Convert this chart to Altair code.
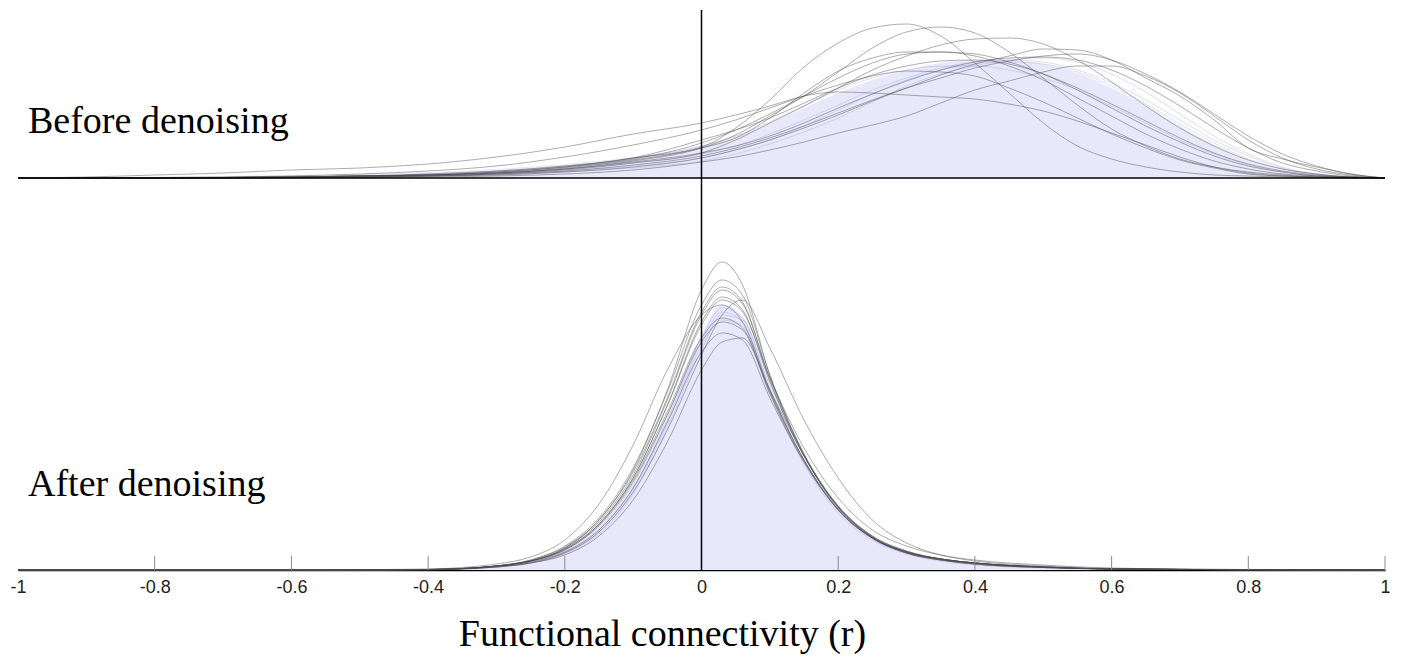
import altair as alt
import pandas as pd

# ---------------- data (density heights, arbitrary units) ----------------
XS_TOP = [-1, -0.9, -0.8, -0.7, -0.6, -0.5, -0.4, -0.3, -0.2, -0.1,
          0, 0.05, 0.1, 0.15, 0.2, 0.25, 0.3, 0.35, 0.4, 0.45, 0.5,
          0.55, 0.6, 0.65, 0.7, 0.75, 0.8, 0.85, 0.9, 0.95, 1]

before_subjects = {
    "A": [0, 0, 0, 0.5, 1, 2, 3, 6, 11, 20, 31, 50, 78, 111, 135, 150, 154, 142, 115, 85, 55, 32, 19, 11, 6, 3, 2, 1, 0.5, 0, 0],
    "B": [0, 0, 0, 0.5, 1, 2, 3, 5, 9, 17, 30, 43, 62, 82, 106, 130, 146, 151, 145, 126, 100, 73, 49, 32, 19, 11, 6, 3, 1, 0.5, 0],
    "C": [0, 0, 0, 0, 0.5, 1, 2, 4, 8, 15, 25, 38, 55, 72, 90, 108, 122, 133, 139, 140, 134, 118, 96, 72, 50, 32, 18, 9, 4, 1, 0],
    "D": [0, 0, 0, 0, 0.5, 1, 2, 3, 6, 11, 20, 28, 38, 50, 63, 77, 90, 103, 114, 122, 129, 128, 118, 100, 82, 58, 30, 19, 11, 4, 0],
    "E": [0, 0, 0, 0.5, 1, 2, 3, 5, 10, 18, 30, 40, 60, 85, 107, 120, 126, 126, 122, 112, 98, 80, 62, 44, 29, 17, 9, 4, 2, 0.5, 0],
    "F": [0, 0, 0, 0.5, 1, 2, 3, 5, 9, 16, 25, 32, 42, 55, 70, 84, 97, 108, 116, 120, 121, 118, 108, 92, 72, 50, 30, 15, 7, 2, 0],
    "G": [0, 0, 0, 0, 0, 0.5, 1, 2, 4, 8, 16, 21, 28, 36, 45, 53, 62, 75, 88, 97, 106, 112, 112, 102, 85, 62, 38, 20, 9, 3, 0],
    "H": [0, 1, 3, 5, 8, 10, 14, 21, 31, 44, 55, 63, 72, 82, 86, 85, 83, 81, 79, 74, 67, 57, 45, 33, 21, 11, 5, 2, 1, 0, 0],
    "I": [0, 0, 0.5, 1, 2, 4, 7, 12, 21, 33, 48, 58, 70, 82, 93, 102, 107, 106, 102, 90, 76, 60, 44, 30, 18, 10, 4, 2, 1, 0, 0],
    "J": [0, 0, 0, 0.5, 1, 2, 4, 7, 12, 20, 38, 48, 60, 75, 90, 103, 112, 117, 118, 114, 104, 90, 74, 57, 40, 25, 14, 7, 3, 1, 0],
    "K": [0, 0, 0, 0, 0.5, 1, 2, 4, 7, 13, 22, 30, 40, 52, 65, 78, 90, 100, 110, 117, 122, 124, 118, 104, 86, 64, 42, 24, 12, 4, 0],
    "M": [0, 0, 0, 0.5, 1, 2, 3, 6, 11, 19, 35, 48, 64, 82, 100, 115, 124, 126, 124, 116, 104, 88, 70, 52, 36, 22, 12, 6, 2, 1, 0],
}
before_faint = {
    "P1": [0, 0, 0, 0.5, 1, 2, 3, 5, 9, 15, 24, 32, 44, 58, 73, 88, 100, 110, 116, 118, 116, 108, 95, 78, 58, 38, 22, 10, 4, 1, 0],
    "P2": [0, 0, 0, 0, 0.5, 1, 2, 4, 7, 12, 20, 28, 38, 52, 68, 84, 98, 108, 114, 116, 114, 106, 92, 74, 54, 35, 19, 9, 3, 1, 0],
    "P3": [0, 0, 0, 0.5, 1, 2, 4, 7, 12, 20, 32, 42, 56, 72, 88, 100, 108, 112, 112, 108, 100, 88, 72, 55, 38, 24, 13, 6, 2, 0.5, 0],
    "P4": [0, 0, 0, 0, 0.5, 1, 2, 3, 6, 10, 17, 24, 34, 46, 60, 76, 92, 104, 112, 118, 120, 116, 104, 86, 64, 42, 24, 11, 4, 1, 0],
}
before_mean = [0, 0.3, 1, 2, 3, 4, 6, 9, 14, 21, 32, 42, 55, 70, 85, 98, 108, 115, 118, 118, 114, 105, 90, 72, 52, 33, 18, 8, 3, 1, 0]

XS_BOT = [-1, -0.6, -0.4, -0.35, -0.3, -0.25, -0.2, -0.15, -0.1, -0.05,
          0, 0.03, 0.06, 0.1, 0.15, 0.2, 0.25, 0.3, 0.35, 0.4, 0.5, 0.6, 0.8, 1]

after_subjects = {
    "b1": [0, 0, 0.5, 1.5, 4, 9, 22, 50, 100, 180, 280, 308, 285, 195, 115, 62, 32, 17, 10, 6, 2.5, 1, 0.3, 0],
    "b2": [0, 0, 0.5, 1.5, 4, 10, 23, 50, 98, 172, 258, 283, 268, 190, 114, 63, 33, 18, 11, 7, 3, 1, 0.3, 0],
    "b3": [0, 0, 0.5, 1.5, 4, 9, 22, 48, 95, 170, 255, 280, 266, 192, 116, 64, 34, 19, 11, 7, 3, 1, 0.3, 0],
    "b4": [0, 0, 0.4, 1.2, 3, 7, 17, 38, 78, 140, 215, 255, 270, 222, 150, 92, 50, 27, 15, 9, 4, 1.5, 0.4, 0],
    "b5": [0, 0, 0.5, 1.5, 4, 9, 21, 46, 92, 165, 248, 273, 260, 188, 114, 63, 33, 18, 11, 7, 3, 1, 0.3, 0],
    "b6": [0, 0, 1, 2.5, 6, 13, 30, 66, 125, 200, 255, 265, 248, 180, 110, 60, 32, 17, 10, 6, 2.5, 1, 0.3, 0],
    "b7": [0, 0, 0.5, 1.5, 4, 9, 20, 45, 90, 158, 232, 252, 242, 178, 110, 61, 32, 18, 11, 7, 3, 1, 0.3, 0],
    "b8": [0, 0, 0.5, 1.5, 4, 9, 20, 44, 88, 155, 228, 248, 240, 176, 108, 60, 32, 17, 10, 6, 2.5, 1, 0.3, 0],
    "b9": [0, 0, 0.4, 1.2, 3.5, 8, 18, 40, 82, 148, 218, 237, 230, 172, 108, 60, 32, 18, 11, 7, 3, 1, 0.3, 0],
    "b10": [0, 0, 0.3, 1, 3, 7, 15, 34, 70, 128, 200, 228, 232, 180, 114, 64, 34, 19, 11, 7, 3, 1, 0.3, 0],
    "b11": [0, 0, 0.5, 1.5, 4, 10, 24, 52, 102, 178, 265, 290, 275, 195, 116, 63, 33, 18, 11, 7, 3, 1, 0.3, 0],
    "b12": [0, 0, 0.5, 1.5, 4, 9, 21, 46, 92, 164, 245, 270, 258, 192, 122, 72, 40, 24, 15, 10, 5, 2, 0.5, 0],
}
after_faint = {
    "q1": [0, 0, 0.4, 1.2, 3.5, 8, 19, 42, 86, 155, 232, 262, 252, 182, 110, 60, 31, 17, 10, 6, 2.5, 1, 0.3, 0],
    "q2": [0, 0, 0.3, 1, 3, 7, 16, 36, 76, 142, 220, 255, 250, 185, 114, 63, 33, 18, 11, 7, 3, 1, 0.3, 0],
    "q3": [0, 0, 0.4, 1.2, 3.5, 8, 18, 40, 82, 150, 228, 258, 248, 178, 106, 57, 30, 16, 9, 5, 2, 1, 0.3, 0],
    "q4": [0, 0, 0.3, 1, 3, 7, 17, 38, 80, 146, 224, 250, 244, 180, 110, 62, 33, 18, 11, 7, 3, 1, 0.3, 0],
}
after_mean = [0, 0, 0.4, 1.2, 3.5, 8, 19, 42, 86, 155, 235, 265, 254, 183, 111, 61, 32, 17, 10, 6, 2.5, 1, 0.3, 0]

TICK_VALUES = [-1, -0.8, -0.6, -0.4, -0.2, 0, 0.2, 0.4, 0.6, 0.8, 1]
INNER_TICKS = [-0.8, -0.6, -0.4, -0.2, 0.2, 0.4, 0.6, 0.8, 1]

# ---------------- layout constants ----------------
Y_MAX = 560      # y-units of the stacked plot
TOP_BASE = 392   # offset of the "before" panel baseline
TICK_LEN = 14

rows = []


def add(panel, kind, name, xs, vals, base):
    for x, v in zip(xs, vals):
        rows.append({"panel": panel, "kind": kind, "series": f"{panel}-{name}",
                     "r": x, "y": base + v, "base": base})


for k, v in before_subjects.items():
    add("before", "subject", k, XS_TOP, v, TOP_BASE)
for k, v in before_faint.items():
    add("before", "faint", k, XS_TOP, v, TOP_BASE)
add("before", "mean", "mean", XS_TOP, before_mean, TOP_BASE)
for k, v in after_subjects.items():
    add("after", "subject", k, XS_BOT, v, 0)
for k, v in after_faint.items():
    add("after", "faint", k, XS_BOT, v, 0)
add("after", "mean", "mean", XS_BOT, after_mean, 0)

df = pd.DataFrame(rows)

xaxis = alt.Axis(values=TICK_VALUES, labelExpr="toString(datum.value)",
                 ticks=False, tickSize=0, grid=False,
                 domain=True, domainColor="black", domainWidth=1.5,
                 labelFont="Liberation Sans", labelFontSize=18, labelColor="#222222",
                 labelPadding=17, labelBaseline="middle", labelFlush=False,
                 title="Functional connectivity (r)", titleFont="Liberation Serif",
                 titleFontSize=38, titleFontWeight="normal", titleColor="black",
                 titleX=644, titleY=75, titleBaseline="alphabetic", titleAlign="center")

X = alt.X("r:Q", scale=alt.Scale(domain=[-1, 1], nice=False, zero=False), axis=xaxis)
Y = alt.Y("y:Q", scale=alt.Scale(domain=[0, Y_MAX], nice=False, zero=False), axis=None)

base = alt.Chart(df)

fill = base.transform_filter(alt.datum.kind == "mean").mark_area(
    color="#e8e8fb", interpolate="monotone", opacity=1
).encode(x=X, y=Y, y2="base:Q", detail="series:N")

faint = base.transform_filter(alt.datum.kind == "faint").mark_line(
    color="#8f8fdc", opacity=0.3, strokeWidth=1, interpolate="monotone"
).encode(x=X, y=Y, detail="series:N")

subjects = base.transform_filter(alt.datum.kind == "subject").mark_line(
    color="#4a4a4a", opacity=0.45, strokeWidth=1, interpolate="monotone"
).encode(x=X, y=Y, detail="series:N")

top_line = alt.Chart(pd.DataFrame({"r": [-1], "r2": [1], "y": [TOP_BASE]})).mark_rule(
    color="black", strokeWidth=1.5
).encode(x=X, x2="r2:Q", y=Y)

zero_line = alt.Chart(pd.DataFrame({"r": [0], "y": [0], "y2": [Y_MAX]})).mark_rule(
    color="black", strokeWidth=1.5
).encode(x=X, y=Y, y2="y2:Q")

ticks = alt.Chart(pd.DataFrame({"r": INNER_TICKS, "y": [0] * len(INNER_TICKS),
                                "y2": [TICK_LEN] * len(INNER_TICKS)})).mark_rule(
    color="#8a8a8a", strokeWidth=1
).encode(x=X, y=Y, y2="y2:Q")

label_before = alt.Chart(pd.DataFrame({"t": ["Before denoising"]})).mark_text(
    font="Liberation Serif", fontSize=38, align="left", baseline="alphabetic", color="black"
).encode(x=alt.value(10), y=alt.value(123), text="t:N")

label_after = alt.Chart(pd.DataFrame({"t": ["After denoising"]})).mark_text(
    font="Liberation Serif", fontSize=38, align="left", baseline="alphabetic", color="black"
).encode(x=alt.value(10), y=alt.value(486), text="t:N")

chart = alt.layer(fill, faint, subjects, ticks, top_line, zero_line,
                  label_before, label_after).properties(
    width=1367, height=Y_MAX,
    padding={"left": 18, "top": 10, "right": 18, "bottom": 90},
    autosize=alt.AutoSizeParams(type="none"),
    background="white",
).configure_view(stroke=None)

chart.save("out.html", embed_options={"renderer": "svg", "actions": False})
